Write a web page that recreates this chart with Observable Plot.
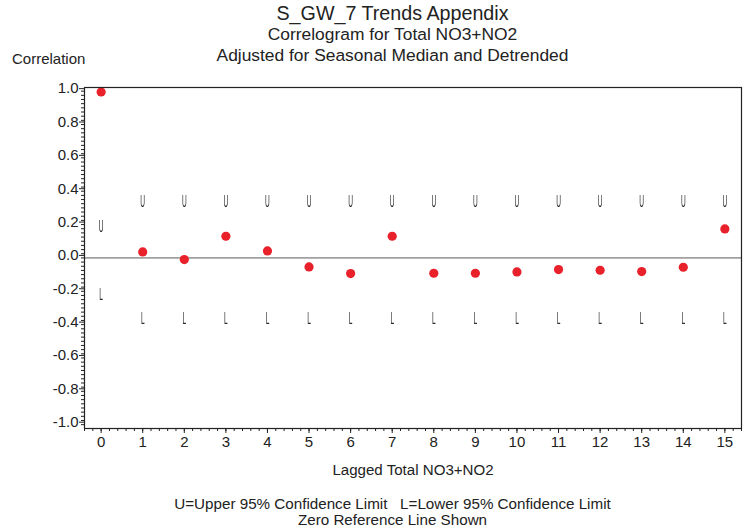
<!DOCTYPE html>
<html>
<head>
<meta charset="utf-8">
<script src="https://cdn.jsdelivr.net/npm/d3@7"></script>
<script src="https://cdn.jsdelivr.net/npm/@observablehq/plot@0.6"></script>
<style>
  html, body { margin: 0; padding: 0; background: #fff; }
  #wrap { position: relative; width: 751px; height: 529px; font-family: "Liberation Sans", Arial, sans-serif; color: #222; }
  .t { position: absolute; white-space: nowrap; line-height: 1; }
  .c { left: 0; width: 785px; text-align: center; }
</style>
</head>
<body>
<div id="wrap">
  <div id="chart"></div>
  <div class="t c" style="top:4px;font-size:19.7px;">S_GW_7 Trends Appendix</div>
  <div class="t c" style="top:26px;font-size:17.4px;">Correlogram for Total NO3+NO2</div>
  <div class="t c" style="top:47px;font-size:17.4px;">Adjusted for Seasonal Median and Detrended</div>
  <div class="t" style="top:50.5px;left:12px;font-size:15px;">Correlation</div>
  <div class="t" style="top:462px;left:0;width:826px;text-align:center;font-size:15.1px;">Lagged Total NO3+NO2</div>
  <div class="t c" style="top:496px;font-size:15.2px;">U=Upper 95% Confidence Limit&nbsp;&nbsp;&nbsp;L=Lower 95% Confidence Limit</div>
  <div class="t c" style="top:511.5px;font-size:15.2px;">Zero Reference Line Shown</div>
</div>
<script>
// ---- data ----
const lags = [0, 1, 2, 3, 4, 5, 6, 7, 8, 9, 10, 11, 12, 13, 14, 15];
const correlation = [0.995, 0.036, -0.010, 0.130, 0.042, -0.054, -0.094, 0.130, -0.092, -0.092, -0.084, -0.070, -0.074, -0.082, -0.056, 0.174];
const upperLimit = [0.186, 0.336, 0.336, 0.336, 0.336, 0.336, 0.336, 0.336, 0.336, 0.336, 0.336, 0.336, 0.336, 0.336, 0.336, 0.336];
const lowerLimit = [-0.218, -0.364, -0.364, -0.364, -0.364, -0.364, -0.364, -0.364, -0.364, -0.364, -0.364, -0.364, -0.364, -0.364, -0.364, -0.364];
const yTickValues = [-1.0, -0.8, -0.6, -0.4, -0.2, 0.0, 0.2, 0.4, 0.6, 0.8, 1.0];
const xTickValues = lags;

const rows = lags.map((lag, i) => ({lag, r: correlation[i], u: upperLimit[i], l: lowerLimit[i]}));
const yMinor = d3.range(-40, 41).map(i => i / 40);
const xMinor = d3.range(-2, 78).map(i => i / 5);

const plot = Plot.plot({
  width: 751,
  height: 529,
  marginTop: 87,
  marginBottom: 101,
  marginLeft: 84,
  marginRight: 10,
  style: {fontFamily: "'Liberation Sans', Arial, sans-serif", fontSize: "15px", color: "#222", background: "#fff", overflow: "visible"},
  x: {domain: [-0.4, 15.4], label: null},
  y: {domain: [-1.023, 1.022], label: null},
  marks: [
    Plot.ruleY([0], {stroke: "#a0a0a0", strokeWidth: 1.6}),
    Plot.axisY({ticks: yMinor, tickSize: 3, tickFormat: () => "", label: null, stroke: "#222"}),
    Plot.axisY({ticks: yTickValues, tickSize: 5, tickPadding: 1, dy: -2.5, tickFormat: d => d.toFixed(1), label: null, stroke: "#222", fill: "#222"}),
    Plot.axisX({ticks: xMinor, tickSize: 3, tickFormat: () => "", label: null, stroke: "#222"}),
    Plot.axisX({ticks: xTickValues, tickSize: 5, tickPadding: 3, tickFormat: d => String(d), label: null, stroke: "#222", fill: "#222"}),
    Plot.text(rows, {x: "lag", y: "u", text: () => "U", fontSize: 16.5, fill: "#2a2a2a", lineAnchor: "middle"}),
    Plot.text(rows, {x: "lag", y: "l", text: () => "L", fontSize: 16.5, fill: "#2a2a2a", lineAnchor: "middle"}),
    Plot.dot(rows, {x: "lag", y: "r", r: 4.6, fill: "#e8212b", stroke: null}),
    Plot.frame({stroke: "#222", strokeWidth: 1.2})
  ]
});
document.getElementById("chart").appendChild(plot);

// condense the U / L glyphs horizontally, with greyscale anti-aliasing
plot.querySelectorAll('g[aria-label="text"]').forEach(g => {
  g.style.filter = "grayscale(100%)";
  g.style.opacity = "0.999";
});
plot.querySelectorAll('g[aria-label="text"] text').forEach(t => {
  const tr = t.getAttribute("transform");
  if (tr) {
    t.setAttribute("transform", tr + " scale(0.4,1)");
  } else {
    const x = t.getAttribute("x") || 0, y = t.getAttribute("y") || 0;
    t.removeAttribute("x"); t.removeAttribute("y");
    t.setAttribute("transform", `translate(${x},${y}) scale(0.4,1)`);
  }
});
</script>
</body>
</html>
